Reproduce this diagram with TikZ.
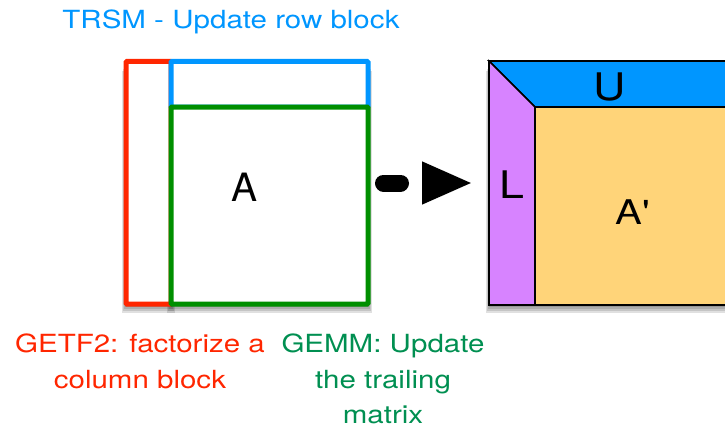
\documentclass[tikz,border=0pt]{standalone}
\usepackage{fontspec}
\setmainfont{TeX Gyre Heros}
\newfontfamily\widefont[FakeStretch=1.18]{TeX Gyre Heros}
\usetikzlibrary{positioning,arrows.meta}

\definecolor{panelred}{HTML}{FF2600}
\definecolor{panelblue}{HTML}{0096FF}
\definecolor{panelgreen}{HTML}{008F00}
\definecolor{textgreen}{HTML}{008F51}
\definecolor{lpurple}{HTML}{D783FF}
\definecolor{aorange}{HTML}{FFD479}

\begin{document}
\begin{tikzpicture}[x=1pt, y=-1pt,
  shade/.style={fill=black, opacity=0.12},
  block/.style={draw, fill=white, line width=5pt, rounded corners=1pt, inner sep=0pt},
  caption/.style={inner sep=0pt, align=center, font=\widefont\fontsize{25}{35.5}\selectfont},
  letter/.style={inner sep=0pt, font=\widefont\fontsize{38}{38}\selectfont},
  flow/.style={line width=17pt, line cap=round, dash pattern=on 17pt off 60pt,
    shorten <=13pt, shorten >=16pt, -{Triangle[length=51pt, width=39pt]}}]

  \useasboundingbox (0,0) rectangle (725,428);
  \clip (0,0) rectangle (725,428);

  % Soft shadows under both panels
  \foreach \xa/\ya/\xb/\yb in {126/61.5/171/304, 171/61.5/368/304, 490/62/760/304}
    \foreach \d in {1,3,5,7,9}
      \fill[shade] (\xa-0.4*\d,\ya+\d) rectangle (\xb+0.4*\d,\yb+\d);

  % Input panel
  \node[block, draw=panelred, minimum width=45pt, minimum height=242.5pt] (getf) at (148.5,182.75) {};
  \node[block, draw=panelblue, minimum width=197pt, minimum height=45.5pt] (trsm) at (269.5,84.25) {};
  \node[block, draw=panelgreen, minimum width=197pt, minimum height=197pt] (gemm) at (269.5,205.5) {};
  \node[inner sep=0pt, font=\fontsize{39}{39}\selectfont] (nameA) at (245,187) {A};

  % Result panel
  \node[draw, fill=white, line width=2pt, inner sep=0pt, minimum width=270pt, minimum height=242pt] (res) at (625,183) {};
  \coordinate (corner) at (535,107);
  \filldraw[fill=panelblue, line width=1.5pt] (res.north west) -- (res.north east) -- (res.east |- corner) -- (corner) -- cycle;
  \filldraw[fill=lpurple, line width=1.5pt] (res.north west) -- (corner) -- (corner |- res.south) -- (res.south west) -- cycle;
  \filldraw[fill=aorange, line width=1.5pt] (corner) -- (res.east |- corner) -- (res.south east) -- (corner |- res.south) -- cycle;
  \draw[line width=2pt] (res.north west) rectangle (res.south east);
  \node[letter] (nameU) at (610,87) {U};
  \node[letter] (nameL) at (512,185) {L};
  \node[letter, font=\widefont\fontsize{34}{34}\selectfont] (nameA2) at (633,212) {A'};

  % Arrow
  \draw[flow] (gemm.east |- res.west) -- (res.west);

  % Labels
  \node[caption, text=panelblue, anchor=base] (trsmlabel) at (231,29) {TRSM - Update row block};
  \node[caption, text=panelred, anchor=north] (getflabel) at (140,334) {GETF2: factorize a\\column block};
  \node[caption, text=textgreen, anchor=north] (gemmlabel) at (383,334) {GEMM: Update\\the trailing\\matrix};

\end{tikzpicture}
\end{document}
